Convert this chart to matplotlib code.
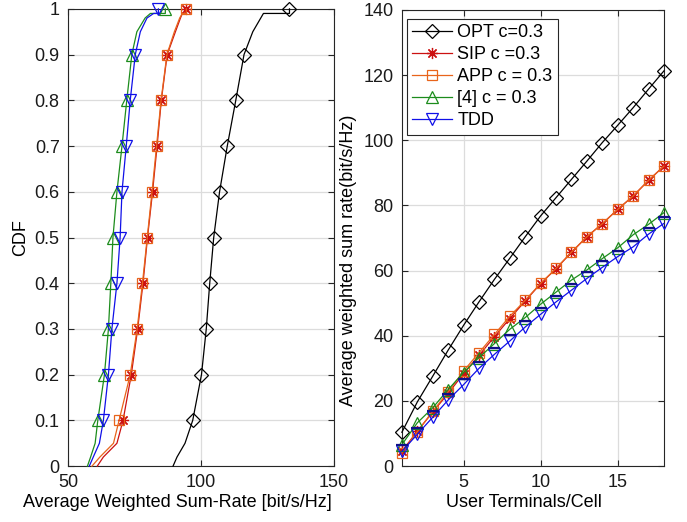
import numpy as np
import matplotlib
matplotlib.use("Agg")
import matplotlib.pyplot as plt
from matplotlib.path import Path

plt.rcParams['font.family'] = ['Liberation Sans', 'DejaVu Sans']
plt.rcParams['font.size'] = 13

# ---------------- Left panel: CDF data (quantiles) ----------------
cdf_levels = [0.0, 0.02, 0.05, 0.1, 0.2, 0.3, 0.4, 0.5, 0.6, 0.7, 0.8, 0.9, 0.95, 0.98, 0.99, 0.99, 1.0]
marker_levels = [0.1, 0.2, 0.3, 0.4, 0.5, 0.6, 0.7, 0.8, 0.9, 1.0]

cdf_opt = [89.5, 91.0, 94.0, 96.9, 100.2, 102.0, 103.3, 104.8, 107.0, 109.9, 113.1, 116.2, 119.5, 122.5, 123.5, 133.3, 133.3]
cdf_sip = [61.0, 63.3, 68.4, 70.7, 73.8, 76.2, 78.2, 79.9, 81.8, 83.5, 85.1, 87.3, 90.4, 92.3, 93.0, 94.2, 94.2]
cdf_app = [59.0, 62.0, 67.1, 69.2, 73.4, 76.0, 78.0, 79.8, 81.6, 83.3, 85.0, 87.2, 90.0, 92.0, 93.0, 94.5, 94.5]
cdf_ref4 = [57.3, 58.5, 60.2, 61.2, 63.7, 65.2, 66.1, 66.9, 68.4, 70.3, 72.1, 74.0, 75.9, 79.0, 81.0, 86.6, 86.6]
cdf_tdd = [58.0, 59.5, 61.8, 63.3, 65.2, 66.5, 68.4, 69.6, 70.3, 71.9, 73.4, 75.3, 77.2, 79.7, 82.2, 84.0, 84.0]

# ---------------- Right panel: sum rate vs users ----------------
users = list(range(1, 19))
rate_opt = [10.4, 19.7, 27.6, 35.6, 43.2, 50.4, 57.3, 63.8, 70.4, 76.8, 82.4, 88.0, 93.6, 99.3, 104.6, 110.0, 115.7, 121.3]
rate_sip = [4.6, 10.7, 16.6, 22.3, 28.4, 34.0, 39.7, 45.3, 50.7, 56.0, 60.6, 65.6, 70.4, 74.4, 78.8, 82.9, 87.7, 92.1]
rate_app = [4.1, 10.6, 16.8, 22.8, 29.2, 34.8, 40.4, 46.0, 50.9, 56.1, 60.7, 65.7, 70.4, 74.4, 78.8, 82.9, 87.7, 92.1]
rate_ref4 = [6.6, 13.3, 17.9, 23.5, 28.7, 33.3, 37.6, 42.0, 45.6, 49.7, 53.4, 57.1, 60.2, 63.7, 67.0, 71.0, 74.2, 77.8]
rate_tdd = [4.5, 9.8, 15.0, 20.3, 25.0, 30.0, 34.3, 38.4, 42.7, 46.6, 50.4, 54.0, 57.6, 61.0, 64.3, 67.3, 71.2, 74.5]

labels = ['OPT c=0.3', 'SIP c =0.3', 'APP c = 0.3', '[4] c = 0.3', 'TDD']

c_opt = 'black'
c_sip = '#cc1111'
c_app = '#e8641b'
c_ref4 = '#1c8c1c'
c_tdd = '#1010e8'

styles = [
    dict(color=c_opt, marker='D', ms=6.8),
    dict(color=c_sip, marker=(8, 2, 0), ms=8.0),
    dict(color=c_app, marker='s', ms=7.5),
    dict(color=c_ref4, marker='^', ms=9),
    dict(color=c_tdd, marker='v', ms=9),
]

fig = plt.figure(figsize=(6.87, 5.22), dpi=100)
ax1 = fig.add_axes([0.099, 0.107, 0.387, 0.876])
ax2 = fig.add_axes([0.585, 0.107, 0.3815, 0.874])

def style_axes(ax):
    ax.grid(True, color='#dcdcdc', linewidth=0.9)
    ax.set_axisbelow(True)
    ax.tick_params(direction='in', top=True, right=True, length=4, width=0.8,
                   colors='#262626', labelsize=13, labelcolor='#1a1a1a', pad=6)
    for s in ax.spines.values():
        s.set_color('#262626')
        s.set_linewidth(0.8)

# Left panel
mark_idx = []
for lv in marker_levels:
    idxs = [i for i, v in enumerate(cdf_levels) if abs(v - lv) < 1e-9]
    mark_idx.append(idxs[-1])

for data, st in zip([cdf_opt, cdf_sip, cdf_app, cdf_ref4, cdf_tdd], styles):
    ax1.plot(data, cdf_levels, color=st['color'], lw=0.9, marker=st['marker'],
             ms=st['ms'], mfc='none', mec=st['color'], mew=0.9, markevery=mark_idx,
             clip_on=False, zorder=3)

ax1.set_xlim(50, 150)
ax1.set_ylim(0, 1)
ax1.set_xticks([50, 100, 150])
ax1.set_yticks(np.arange(0, 1.01, 0.1))
ax1.set_yticklabels(['0', '0.1', '0.2', '0.3', '0.4', '0.5', '0.6', '0.7', '0.8', '0.9', '1'])
ax1.set_xlabel('Average Weighted Sum-Rate [bit/s/Hz]', labelpad=3)
ax1.xaxis.set_label_coords(0.41, -0.062)
ax1.set_ylabel('CDF', labelpad=4)
style_axes(ax1)

# Right panel
handles = []
for data, st, lab in zip([rate_opt, rate_sip, rate_app, rate_ref4, rate_tdd], styles, labels):
    h, = ax2.plot(users, data, color=st['color'], lw=0.9, marker=st['marker'],
                  ms=st['ms'], mfc='none', mec=st['color'], mew=0.9, label=lab,
                  clip_on=False, zorder=3)
    handles.append(h)

bar = Path([(-1, 1), (1, 1)], [Path.MOVETO, Path.LINETO])
ax2.plot(users, rate_tdd, linestyle='none', marker=bar, ms=9, mec='#10108a', mew=1.6,
         clip_on=False, zorder=3)

ax2.set_xlim(1, 18)
ax2.set_ylim(0, 140)
ax2.set_xticks([5, 10, 15])
ax2.set_yticks(np.arange(0, 141, 20))
ax2.set_xlabel('User Terminals/Cell', labelpad=3)
ax2.xaxis.set_label_coords(0.466, -0.062)
ax2.set_ylabel('Average weighted sum rate(bit/s/Hz)', labelpad=4)
ax2.yaxis.set_label_coords(-0.17, 0.452)
style_axes(ax2)

leg = ax2.legend(handles=handles, loc='upper left', bbox_to_anchor=(0.019, 0.981),
                 fontsize=13, frameon=True,
                 fancybox=False, edgecolor='#262626', framealpha=1,
                 handlelength=2.2, handletextpad=0.3, borderpad=0.3,
                 labelspacing=0.28, borderaxespad=0.0)
leg.get_frame().set_linewidth(0.8)
leg.set_zorder(5)

fig.savefig('out.png', dpi=100)
